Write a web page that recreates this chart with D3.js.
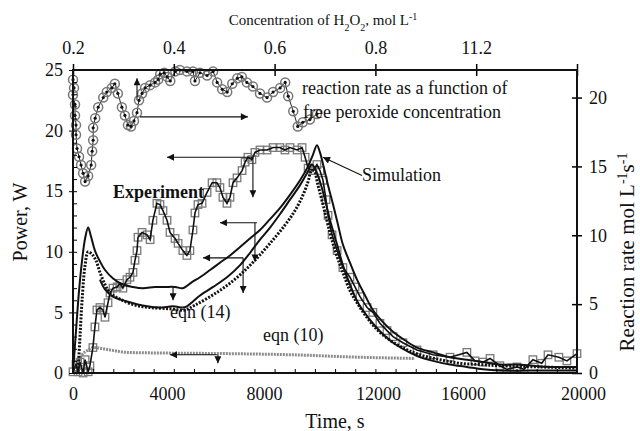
<!DOCTYPE html>
<html>
<head>
<meta charset="utf-8">
<script src="https://cdn.jsdelivr.net/npm/d3@7"></script>
<style>
  body { margin: 0; background: #fff; }
  text { font-family: "Liberation Serif", "Times New Roman", serif; fill: #111; }
</style>
</head>
<body>
<svg id="chart" width="640" height="431"></svg>
<script>
// reaction rate vs free peroxide concentration (top + right axes)
const rateConc = [0.200,0.202,0.200,0.204,0.204,0.206,0.206,0.208,0.212,0.216,0.220,0.224,0.230,0.236,0.238,0.240,0.240,0.244,0.250,0.260,0.267,0.277,0.283,0.289,0.297,0.303,0.309,0.315,0.321,0.327,0.331,0.337,0.343,0.353,0.363,0.369,0.373,0.381,0.387,0.393,0.403,0.412,0.426,0.438,0.442,0.452,0.466,0.478,0.486,0.496,0.506,0.516,0.526,0.535,0.545,0.557,0.571,0.585,0.597,0.611,0.621,0.627,0.637,0.646,0.656,0.670,0.684];
const rateValue = [21.3,20.7,20.2,19.5,18.7,18.0,17.3,16.3,15.7,15.1,14.5,13.9,14.3,15.1,16.1,16.9,17.8,18.5,19.3,20.0,20.4,20.7,21.0,20.3,19.3,18.7,18.0,17.9,18.3,18.9,19.8,20.3,20.7,20.9,21.1,21.3,21.7,21.8,21.5,21.2,21.9,22.0,21.9,21.9,21.2,21.8,21.6,21.9,21.1,20.6,20.4,21.0,21.4,21.5,21.1,20.8,20.3,20.0,20.4,20.7,21.1,20.1,19.0,17.9,18.2,18.4,18.8];

// experiment (time, power)
const expTime = [0,120,200,280,400,480,600,670,790,870,950,1070,1190,1270,1390,1470,1590,1750,1860,1980,2140,2260,2380,2460,2540,2580,2740,2940,3060,3170,3330,3450,3570,3730,3850,4050,4170,4360,4520,4640,4760,4840,4960,5120,5320,5520,5710,5830,5950,6110,6230,6350,6510,6710,6830,6940,7100,7220,7420,7700,7940,8210,8410,8610,8890,9090,9210,9330,9520,9680,9800,9920,10040,10120,10280,10480,10710,10990,11190,11390,11670,11900,12180,12460,12700,13090,13650,14290,14960,15630,15950,16270,16550,16940,17220,17620,17900,18250,18600,18850,19280,19600,20000];
const expPower = [0.1,0.7,0.1,0.9,0,1.1,0.1,0.6,2.1,3.8,5.2,5.4,5.2,4.6,5.8,6.6,7.0,7.1,7.4,7.0,7.7,7.9,8.3,9.3,10.1,11.2,11.6,11.4,11.0,12.6,14.0,13.9,13.4,12.6,11.6,11.1,10.7,10.1,9.7,10.1,11.8,13.2,13.9,14.0,14.9,15.7,15.7,15.3,14.5,14.0,14.5,15.7,16.1,16.7,17.4,17.8,17.6,18.2,18.4,18.4,18.6,18.6,18.4,18.6,18.4,18.6,17.8,16.9,16.7,17.2,16.7,15.9,14.3,13.0,11.4,10.1,8.7,7.9,7.1,6.3,5.4,5.0,4.1,3.5,3.0,2.5,1.9,1.5,1.3,1.7,1.0,0.9,1.2,0.6,0.3,0.5,0.3,1.1,0.8,1.5,1.3,1.0,1.6];

// simulation (upper solid curve)
const simTime = [0,120,240,360,480,600,710,870,1070,1270,1590,1980,2380,2780,3250,3650,4050,4360,4720,5040,5440,5830,6230,6630,7020,7420,7820,8210,8610,9010,9290,9520,9680,9800,9960,10120,10320,10520,10710,10990,11270,11590,11900,12300,12700,13170,13650,14290,14960,15630,16270,16940,17620,18250,18930,20000];
const simPower = [0,3.5,6.8,9.3,11.1,12.0,11.3,10.1,9.2,8.5,7.8,7.3,7.1,7.0,7.1,7.1,7.1,7.0,7.5,7.9,8.5,9.1,9.7,10.4,11.1,11.8,12.7,13.6,14.7,15.9,16.9,18.0,18.8,18.2,16.9,15.5,13.9,12.2,10.6,9.1,7.7,6.4,5.2,4.2,3.4,2.7,2.1,1.7,1.3,1.1,0.9,0.7,0.7,0.6,0.5,0.5];

// eqn (14) lower solid curve
const eq14Time = [1070,1270,1590,2140,2940,3450,3970,4360,4520,4760,5040,5560,6110,6630,7020,7420,7820,8210,8610,9010,9290,9480,9640,9800,10000,10200,10480,10710,10990,11310,11670,11980,12300,12700,13170,13650,14290,14960,15630,16270,16940,18130,20000];
const eq14Power = [7.7,6.9,6.3,5.9,5.5,5.4,5.5,5.4,5.5,5.9,6.4,7.1,7.9,8.9,9.9,11.0,12.0,13.1,14.3,15.5,16.5,17.2,16.7,15.8,14.3,12.6,10.6,8.9,7.3,5.8,4.7,3.9,3.2,2.5,1.9,1.4,1.0,0.7,0.5,0.3,0.2,0.2,0.2];

// dashed model curve
const dashTime = [200,280,360,480,600,750,910,1070,1270,1470,1860,2460,3060,3850,4440,4840,5440,6030,6630,7220,7820,8410,8810,9130,9330,9440,9560,9720,9920,10120,10400,10710,10990,11270,11590,12060,12580,13170,13770,14560,15360,16150,16940,18530,20000];
const dashPower = [0.1,3.1,6.0,8.9,10.0,9.8,9.3,8.3,7.3,6.6,6.1,5.6,5.4,5.3,5.2,5.6,6.3,7.1,8.1,9.3,10.7,12.2,13.4,14.7,15.8,16.6,16.7,15.5,13.9,12.2,10.1,8.3,6.8,5.8,4.8,3.6,2.7,2.0,1.5,1.1,0.8,0.7,0.6,0.5,0.4];

// eqn (10) grey curve
const eq10Time = [80,200,360,600,790,1470,2140,3450,6110,8730,11390,13570];
const eq10Power = [0.1,0.9,1.5,1.9,2.1,1.9,1.7,1.65,1.6,1.5,1.3,1.2];

// arrows in (time, power): [t0, p0, t1, p1], head at the end
const powerArrows = [
  [7140, 17.8, 3730, 17.8], [7140, 17.8, 7140, 14.5],
  [7300, 12.4, 5830, 12.4], [7220, 12.4, 7220, 9.2],
  [6750, 9.5, 5160, 9.5], [6750, 9.5, 6750, 6.6],
  [5710, 1.5, 3850, 1.5], [5750, 1.5, 5750, 0.8],
  [3970, 7.1, 3970, 6.0],
  [11470, 16.3, 9920, 17.8]
];
// arrows in (concentration, rate)
const rateArrows = [
  [0.333, 18.6, 0.547, 18.6], [0.327, 19.8, 0.327, 21.4]
];

const timeLabels = ["0", "4000", "8000", "12000", "16000", "20000"];
const timeLabelAt = [0, 4000, 8000, 12000, 16000, 20000];
const concTicks = [0.2, 0.4, 0.6, 0.8, 1.0, 1.2];
const concLabels = ["0.2", "0.4", "0.6", "0.8", "11.2", ""];

const pLeft = 73, pRight = 577, pTop = 70, pBottom = 373;

const svg = d3.select("#chart");

const x = d3.scaleLinear().domain([0, 20000]).range([pLeft, pRight]);
const xc = d3.scaleLinear().domain([0.2, 1.2]).range([pLeft, pRight]);
const y = d3.scaleLinear().domain([0, 25]).range([pBottom, pTop]);
const yr = d3.scaleLinear().domain([0, 22]).range([pBottom, pTop]);
// tick labels in the original figure are not evenly placed
const xLab = d3.scaleLinear().domain(timeLabelAt).range([73, 167, 264, 378, 463, 583]);

svg.append("defs").append("marker")
  .attr("id", "head")
  .attr("viewBox", "0 0 10 10")
  .attr("refX", 10).attr("refY", 5)
  .attr("markerWidth", 9).attr("markerHeight", 7)
  .attr("markerUnits", "userSpaceOnUse")
  .attr("orient", "auto")
  .append("path").attr("d", "M0,0L10,5L0,10z").attr("fill", "#111");

// grey eqn (10)
svg.append("path")
  .datum(eq10Time.map((t, i) => [t, eq10Power[i]]))
  .attr("fill", "none").attr("stroke", "#8c8c8c").attr("stroke-width", 3)
  .attr("stroke-dasharray", "2,1")
  .attr("d", d3.line().x(d => x(d[0])).y(d => y(d[1])).curve(d3.curveMonotoneX));

// experiment squares + line
const exp = expTime.map((t, i) => [t, expPower[i]]);
svg.append("g").selectAll("rect").data(exp).join("rect")
  .attr("x", d => x(d[0]) - 3.75).attr("y", d => y(d[1]) - 3.75)
  .attr("width", 7.5).attr("height", 7.5)
  .attr("fill", "none").attr("stroke", "#7a7a7a").attr("stroke-width", 1.3);
svg.append("path").datum(exp)
  .attr("fill", "none").attr("stroke", "#111").attr("stroke-width", 1.6)
  .attr("d", d3.line().x(d => x(d[0])).y(d => y(d[1])));

// model curves
const line = d3.line().x(d => x(d[0])).y(d => y(d[1])).curve(d3.curveCatmullRom);
svg.append("path")
  .datum(dashTime.map((t, i) => [t, dashPower[i]]))
  .attr("fill", "none").attr("stroke", "#111").attr("stroke-width", 3)
  .attr("stroke-dasharray", "2,1.5").attr("d", line);
svg.append("path")
  .datum(eq14Time.map((t, i) => [t, eq14Power[i]]))
  .attr("fill", "none").attr("stroke", "#111").attr("stroke-width", 2).attr("d", line);
svg.append("path")
  .datum(simTime.map((t, i) => [t, simPower[i]]))
  .attr("fill", "none").attr("stroke", "#111").attr("stroke-width", 2).attr("d", line);

// rate vs concentration circles
const rate = rateConc.map((c, i) => [c, rateValue[i]]);
svg.append("path").datum(rate)
  .attr("fill", "none").attr("stroke", "#222").attr("stroke-width", 1)
  .attr("d", d3.line().x(d => xc(d[0])).y(d => yr(d[1])));
svg.append("g").selectAll("circle").data(rate).join("circle")
  .attr("cx", d => xc(d[0])).attr("cy", d => yr(d[1])).attr("r", 4.5)
  .attr("fill", "none").attr("stroke", "#777").attr("stroke-width", 1.5);
svg.append("g").selectAll("circle").data(rate).join("circle")
  .attr("cx", d => xc(d[0])).attr("cy", d => yr(d[1])).attr("r", 1.6)
  .attr("fill", "#111");

// arrows
svg.append("g").selectAll("line").data(powerArrows).join("line")
  .attr("x1", d => x(d[0])).attr("y1", d => y(d[1]))
  .attr("x2", d => x(d[2])).attr("y2", d => y(d[3]))
  .attr("stroke", "#111").attr("stroke-width", 1.1)
  .attr("marker-end", "url(#head)");
svg.append("g").selectAll("line").data(rateArrows).join("line")
  .attr("x1", d => xc(d[0])).attr("y1", d => yr(d[1]))
  .attr("x2", d => xc(d[2])).attr("y2", d => yr(d[3]))
  .attr("stroke", "#111").attr("stroke-width", 1.1)
  .attr("marker-end", "url(#head)");

// axes
const tickFont = g => g.selectAll("text").style("font-size", "18px")
  .style("font-family", "'Liberation Serif', serif").attr("fill", "#111");

svg.append("g").attr("transform", `translate(0,${pBottom})`)
  .call(d3.axisBottom(x).tickValues(d3.range(0, 20001, 800)).tickSize(-4).tickFormat(""))
  .call(g => g.select(".domain").remove());
svg.append("g").attr("transform", `translate(0,${pBottom})`)
  .call(d3.axisBottom(xLab).tickValues(timeLabelAt).tickSize(0).tickPadding(14)
    .tickFormat((d, i) => timeLabels[i]))
  .call(g => g.select(".domain").remove())
  .call(tickFont);

svg.append("g").attr("transform", `translate(${pLeft},0)`)
  .call(d3.axisLeft(y).tickValues(d3.range(0, 26, 1)).tickSize(-4).tickFormat(""))
  .call(g => g.select(".domain").remove());
svg.append("g").attr("transform", `translate(${pLeft},0)`)
  .call(d3.axisLeft(y).tickValues([0, 5, 10, 15, 20, 25]).tickSize(4).tickPadding(6))
  .call(g => g.select(".domain").remove())
  .call(tickFont);

svg.append("g").attr("transform", `translate(${pRight},0)`)
  .call(d3.axisRight(yr).tickValues([0, 5, 10, 15, 20]).tickSize(5).tickPadding(7))
  .call(g => g.select(".domain").remove())
  .call(g => g.selectAll(".tick line").attr("x1", -5).attr("stroke-width", 1.5))
  .call(tickFont);

svg.append("g").attr("transform", `translate(0,${pTop})`)
  .call(d3.axisTop(xc).tickValues(concTicks).tickSize(6).tickPadding(10)
    .tickFormat((d, i) => concLabels[i]))
  .call(g => g.select(".domain").remove())
  .call(g => g.selectAll(".tick line").attr("y2", 6).attr("y1", -6).attr("stroke-width", 1.5))
  .call(tickFont);

// frame
svg.append("rect")
  .attr("x", pLeft).attr("y", pTop).attr("width", pRight - pLeft).attr("height", pBottom - pTop)
  .attr("fill", "none").attr("stroke", "#111").attr("stroke-width", 2);

// axis titles
svg.append("text").attr("transform", "translate(27,222) rotate(-90)")
  .attr("text-anchor", "middle").style("font-size", "20px").text("Power, W");
const rt = svg.append("text").attr("transform", "translate(634,252) rotate(-90)")
  .attr("text-anchor", "middle").style("font-size", "21px");
rt.append("tspan").text("Reaction rate mol L");
rt.append("tspan").attr("baseline-shift", "super").style("font-size", "14px").text("-1");
rt.append("tspan").text("s");
rt.append("tspan").attr("baseline-shift", "super").style("font-size", "14px").text("-1");

svg.append("text").attr("x", 335).attr("y", 428)
  .attr("text-anchor", "middle").style("font-size", "20px").style("font-weight", "normal")
  .text("Time, s");

const tt = svg.append("text").attr("x", 323).attr("y", 25)
  .attr("text-anchor", "middle").style("font-size", "15px");
tt.append("tspan").text("Concentration of H");
tt.append("tspan").attr("baseline-shift", "sub").style("font-size", "10px").text("2");
tt.append("tspan").text("O");
tt.append("tspan").attr("baseline-shift", "sub").style("font-size", "10px").text("2");
tt.append("tspan").text(", mol L");
tt.append("tspan").attr("baseline-shift", "super").style("font-size", "10px").text("-1");

// annotations
const note = (tx, ty, s, bold) => svg.append("text").attr("x", tx).attr("y", ty)
  .style("font-size", "18px").style("font-weight", bold ? "bold" : "normal").text(s);
note(302, 94, "reaction rate as a function of");
note(303, 118, "free peroxide concentration");
note(362, 181, "Simulation");
note(113, 198, "Experiment", true);
note(170, 318, "eqn (14)");
note(263, 341, "eqn (10)");
</script>
</body>
</html>
